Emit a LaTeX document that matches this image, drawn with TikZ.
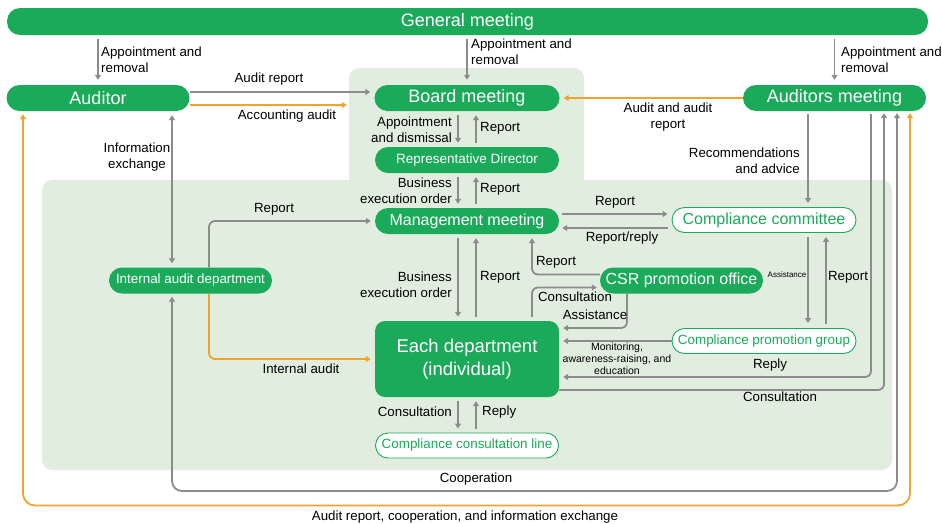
\documentclass[tikz,border=0pt]{standalone}
\usepackage{fontspec}
\setmainfont{Liberation Sans}
\usetikzlibrary{arrows.meta}
\pgfdeclarelayer{panels}
\pgfdeclarelayer{links}
\pgfsetlayers{panels,links,main}
\definecolor{brand}{HTML}{1BA95A}
\definecolor{panelbg}{HTML}{E1EEDF}
\definecolor{linegray}{HTML}{8C8C8C}
\definecolor{auditorange}{HTML}{F0A430}
\begin{document}
\begin{tikzpicture}[x=1pt,y=-1pt,
  pill/.style={fill=brand,text=white,rounded corners=13pt,minimum height=26pt,inner sep=0pt},
  outpill/.style={fill=white,draw=brand,line width=0.9pt,text=brand,rounded corners=12.5pt,minimum height=25pt,inner sep=0pt},
  panelbox/.style={fill=panelbg,rounded corners=10pt,inner sep=0pt},
  tip/.tip={Triangle[length=5pt,width=6pt]},
  glink/.style={draw=linegray,line width=1.8pt,rounded corners=6pt,-tip},
  gboth/.style={draw=linegray,line width=1.8pt,rounded corners=6pt,tip-tip},
  olink/.style={draw=auditorange,line width=1.8pt,rounded corners=6pt,-tip},
  oboth/.style={draw=auditorange,line width=1.8pt,rounded corners=6pt,tip-tip},
  lbl/.style={inner sep=0pt,align=center,text=black,font=\fontsize{13.3}{16}\selectfont},
  big/.style={font=\fontsize{18}{20}\selectfont},
  mid/.style={font=\fontsize{16}{18}\selectfont},
  small/.style={font=\fontsize{13.4}{15}\selectfont},
]
\useasboundingbox (0,0) rectangle (942,523);

% shaded organisation panels
\begin{pgfonlayer}{panels}
\node[panelbox,minimum width=235pt,minimum height=140pt] (execpanel) at (466.5,138) {};
\node[panelbox,minimum width=850pt,minimum height=290pt] (orgpanel) at (467,325) {};
\end{pgfonlayer}

% bodies
\node[pill,big,minimum width=921pt,minimum height=27pt] (gm) at (467.5,21.5) {General meeting};
\node[pill,big,minimum width=183pt] (aud) at (98,98) {Auditor};
\node[pill,big,minimum width=185pt] (board) at (467,98) {Board meeting};
\node[pill,big,minimum width=183pt] (audm) at (834.5,98) {Auditors meeting};
\node[pill,font=\fontsize{13.5}{15}\selectfont,minimum width=184pt] (rep) at (467,160) {Representative Director};
\node[pill,mid,minimum width=184pt] (mgmt) at (467,221) {Management meeting};
\node[pill,small,minimum width=163pt] (iad) at (190.5,280.5) {Internal audit department};
\node[pill,mid,minimum width=163pt] (csr) at (681.5,280.5) {CSR promotion office};
\node[fill=brand,text=white,rounded corners=10pt,minimum width=184pt,minimum height=76pt,
      inner sep=0pt,align=center,font=\fontsize{18.5}{23}\selectfont] (each) at (467,359) {Each department\\(individual)};
\node[outpill,mid,minimum width=184pt] (cc) at (764,220) {Compliance committee};
\node[outpill,small,minimum width=184pt] (cpg) at (764,341) {Compliance promotion group};
\node[outpill,small,minimum width=183pt] (ccl) at (467,445.5) {Compliance consultation line};

% connectors
\begin{pgfonlayer}{links}
% appointments by the general meeting
\draw[glink,shorten <=4pt,shorten >=5pt] (aud.north |- gm.south) -- (aud.north);
\draw[glink,shorten <=4pt,shorten >=5pt] (board.north |- gm.south) -- (board.north);
\draw[glink,shorten <=4pt,shorten >=5pt] (audm.north |- gm.south) -- (audm.north);
% auditor to board
\draw[glink,shorten >=4pt] ([yshift=6pt]aud.east) -- ([yshift=6pt]board.west);
\coordinate (acc0) at ([yshift=-7pt]aud.east);
\draw[olink,shorten >=2pt] (acc0) -- (acc0 -| execpanel.west);
\draw[olink,shorten >=4pt] (audm.west) -- (board.east);
% main vertical chain
\draw[glink,shorten <=4pt,shorten >=4pt] ([xshift=-9pt]board.south) -- ([xshift=-9pt]rep.north);
\draw[glink,shorten <=4pt,shorten >=4pt] ([xshift=9pt]rep.north) -- ([xshift=9pt]board.south);
\draw[glink,shorten <=4pt,shorten >=4pt] ([xshift=-9pt]rep.south) -- ([xshift=-9pt]mgmt.north);
\draw[glink,shorten <=4pt,shorten >=4pt] ([xshift=9pt]mgmt.north) -- ([xshift=9pt]rep.south);
\draw[glink,shorten <=4pt,shorten >=4pt] ([xshift=-9pt]mgmt.south) -- ([xshift=-9pt]each.north);
\draw[glink,shorten <=4pt,shorten >=4pt] ([xshift=9pt]each.north) -- ([xshift=9pt]mgmt.south);
\draw[glink,shorten <=4pt,shorten >=4pt] ([xshift=-9pt]each.south) -- ([xshift=-9pt]ccl.north);
\draw[glink,shorten <=4pt,shorten >=4pt] ([xshift=9pt]ccl.north) -- ([xshift=9pt]each.south);
% internal audit department
\coordinate (ie0) at ([xshift=74pt]aud.south);
\draw[gboth,shorten <=4pt,shorten >=4pt] (ie0) -- (ie0 |- iad.north);
\draw[glink,shorten >=4pt] ([xshift=18.5pt]iad.north) |- (mgmt.west);
\draw[olink,shorten >=4pt] ([xshift=18.5pt]iad.south) |- (each.west);
\coordinate (coopbase) at (476,491);
\draw[gboth,rounded corners=10pt,shorten <=3pt,shorten >=2pt]
  ([xshift=-18.5pt]iad.south) |- (coopbase) -| ([xshift=62.5pt]audm.south);
\coordinate (loopbase) at (466,505.5);
\draw[oboth,rounded corners=12pt,shorten <=3pt,shorten >=2pt]
  ([xshift=-75pt]aud.south) |- (loopbase) -| ([xshift=75.5pt]audm.south);
% compliance structure
\coordinate (ra0) at ([xshift=-26.5pt]audm.south);
\draw[glink,shorten <=3pt,shorten >=4pt] (ra0) -- (ra0 |- cc.north);
\coordinate (mc0) at ([yshift=7pt]mgmt.east);
\draw[glink,shorten <=3pt,shorten >=4pt] (mc0) -- (mc0 -| cc.west);
\coordinate (mc1) at ([yshift=-7pt]mgmt.east);
\draw[glink,shorten <=4pt,shorten >=3pt] (mc1 -| cc.west) -- (mc1);
\draw[glink,shorten >=4pt] ([yshift=6pt]csr.west) -| ([xshift=65pt]mgmt.south);
\draw[glink,shorten <=4pt,shorten >=3pt] ([xshift=65pt]each.north) |- ([yshift=-7pt]csr.west);
\draw[glink,shorten >=4pt] ([xshift=-54.5pt]csr.south) |- ([yshift=31pt]each.east);
\draw[glink,shorten <=4pt,shorten >=5pt] ([xshift=44pt]cc.south) -- ([xshift=44pt]cpg.north);
\draw[glink,shorten <=4pt,shorten >=4pt] ([xshift=62pt]cpg.north) -- ([xshift=62pt]cc.south);
\draw[glink,shorten >=4pt] (cpg.west) -- (cpg.west -| each.east);
\draw[glink,shorten <=3pt,shorten >=4pt] ([xshift=36.5pt]audm.south) |- ([yshift=-18pt]each.east);
\draw[glink,shorten >=2pt] ([yshift=-31pt]each.east) -| ([xshift=49.5pt]audm.south);
\end{pgfonlayer}

% connector labels
\node[lbl,anchor=west,align=left] at (101,60) {Appointment and\\removal};
\node[lbl,anchor=west,align=left] at (471,52) {Appointment and\\removal};
\node[lbl,anchor=west,align=left] at (841,60) {Appointment and\\removal};
\node[lbl] at (269,79) {Audit report};
\node[lbl] at (287,116) {Accounting audit};
\node[lbl] at (668,117) {Audit and audit\\report};
\node[lbl,anchor=east,align=right] at (452,130) {Appointment\\and dismissal};
\node[lbl,anchor=west] at (480,128) {Report};
\node[lbl,anchor=east,align=right] at (452,190.5) {Business\\execution order};
\node[lbl,anchor=west] at (480,189) {Report};
\node[lbl,anchor=east,align=right] at (452,284.5) {Business\\execution order};
\node[lbl,anchor=west] at (480,277) {Report};
\node[lbl] at (137,157) {Information\\exchange};
\node[lbl] at (274,209) {Report};
\node[lbl] at (301,369) {Internal audit};
\node[lbl,anchor=east] at (452,412) {Consultation};
\node[lbl,anchor=west] at (482,412) {Reply};
\node[lbl] at (476,479) {Cooperation};
\node[lbl] at (465,517) {Audit report, cooperation, and information exchange};
\node[lbl,anchor=east,align=right] at (800,161) {Recommendations\\and advice};
\node[lbl] at (615,202) {Report};
\node[lbl] at (622,238) {Report/reply};
\node[lbl] at (556,262) {Report};
\node[lbl] at (575,297) {Consultation};
\node[lbl] at (595,315) {Assistance};
\node[lbl,font=\fontsize{8}{9}\selectfont] at (787,275) {Assistance};
\node[lbl] at (848,277) {Report};
\node[lbl,font=\fontsize{10.5}{12}\selectfont] at (617,359) {Monitoring,\\awareness-raising, and\\education};
\node[lbl] at (770,365) {Reply};
\node[lbl] at (780,397) {Consultation};
\end{tikzpicture}
\end{document}
